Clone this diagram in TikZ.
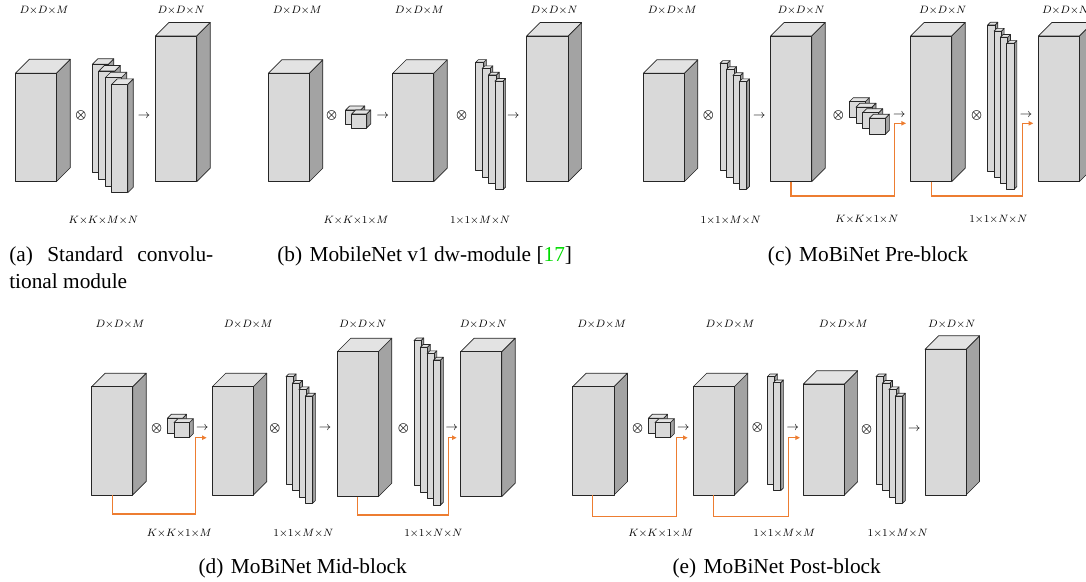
\documentclass[tikz,border=0pt]{standalone}
\usepackage{fontspec}
\setmainfont{Liberation Serif}
\usepackage{tikz}
\usepackage{amsmath}
\usepackage{xcolor}
\usetikzlibrary{arrows.meta,calc}

\definecolor{skiporange}{RGB}{237,125,49}
\definecolor{citegreen}{RGB}{0,220,0}

\tikzset{
  facefront/.style={draw=black!85,fill=black!15,line width=0.5pt,line join=round},
  facetop/.style={draw=black!85,fill=black!11,line width=0.5pt,line join=round},
  faceside/.style={draw=black!85,fill=black!36,line width=0.5pt,line join=round},
  dimlabel/.style={font=\fontsize{8}{9}\selectfont,inner sep=0pt},
  opsym/.style={font=\fontsize{9}{9}\selectfont,inner sep=0pt},
  skipline/.style={draw=skiporange,line width=1pt,-{Triangle[length=3.5pt,width=3.2pt]}},
  captext/.style={font=\fontsize{16}{18}\selectfont,inner sep=0pt}
}

% cuboid: front top-left x, y, width, height, depth
\newcommand{\cubeblock}[5]{%
  \draw[faceside] (#1,#2) ++(#3,0) -- ++(#5,-#5) -- ++(0,#4) -- ++(-#5,#5) -- cycle;
  \draw[facetop] (#1,#2) -- ++(#5,-#5) -- ++(#3,0) -- ++(-#5,#5) -- cycle;
  \draw[facefront] (#1,#2) rectangle ++(#3,#4);
}

\begin{document}
\begin{tikzpicture}[x=0.75pt,y=0.75pt,yscale=-1,xscale=1]
\useasboundingbox (0,0) rectangle (1086,582);
\clip (0,0) rectangle (1086,582);

%%%%%%%%%% (a) standard convolution
%Shape: Cube
\cubeblock{15.3}{73.3}{41}{108.4}{14}
%Shape: Filters
\foreach \i in {0,...,3} {\cubeblock{92.3+6.5*\i}{64.3+6.7*\i}{16}{108.3}{5.5}}
%Shape: Cube
\cubeblock{155.3}{36}{41.4}{145.7}{13.5}

% Text Node
\node[opsym] (a-ox1) at (81,115.7) {$\boldsymbol{\otimes}$};
\node[opsym] (a-to1) at (144,116) {$\rightarrow$};
\node[dimlabel] (a-in) at (44,10) {$D{\times}D{\times}M$};
\node[dimlabel] (a-out) at (181,10) {$D{\times}D{\times}N$};
\node[dimlabel] (a-k1) at (103.3,220) {$K{\times}K{\times}M{\times}N$};
\node[captext,anchor=west] (a-cap1) at (9,256) {\makebox[153pt][s]{(a) Standard convolu-}};
\node[captext,anchor=west] (a-cap2) at (9,281) {tional module};

%%%%%%%%%% (b) MobileNet v1
%Shape: Cube
\cubeblock{268.3}{73.3}{41}{108.4}{13.5}
%Shape: Depthwise kernels
\cubeblock{345.7}{110}{15}{14}{4}
\cubeblock{351.7}{114}{15}{14}{4}
%Shape: Cube
\cubeblock{392.7}{73.3}{41}{108.4}{13.5}
%Shape: Pointwise filters
\foreach \i in {0,...,3} {\cubeblock{475.7+6.4*\i}{62.3+6.3*\i}{8}{108.5}{2.7}}
%Shape: Cube
\cubeblock{526.7}{36}{41.4}{145.7}{13.5}

% Text Node
\node[opsym] (b-ox1) at (331.7,115.7) {$\boldsymbol{\otimes}$};
\node[opsym] (b-to1) at (382.7,116) {$\rightarrow$};
\node[opsym] (b-ox2) at (461.7,115.7) {$\boldsymbol{\otimes}$};
\node[opsym] (b-to2) at (513.3,116) {$\rightarrow$};
\node[dimlabel] (b-in) at (297.3,10) {$D{\times}D{\times}M$};
\node[dimlabel] (b-mid) at (419.3,10) {$D{\times}D{\times}M$};
\node[dimlabel] (b-out) at (554,10) {$D{\times}D{\times}N$};
\node[dimlabel] (b-k1) at (356,220) {$K{\times}K{\times}1{\times}M$};
\node[dimlabel] (b-k2) at (480,220) {$1{\times}1{\times}M{\times}N$};
\node[captext,anchor=west] (b-cap) at (277,256) {(b)\hspace{0.35em}MobileNet v1 dw-module [{\color{citegreen}17}]};

%%%%%%%%%% (c) MoBiNet Pre-block
%Shape: Cube
\cubeblock{643.3}{73.3}{41}{108.4}{13.5}
\foreach \i in {0,...,3} {\cubeblock{720+6.45*\i}{63.3+6.1*\i}{7.4}{107.5}{2.7}}
\cubeblock{770.7}{36}{41}{145.7}{13.5}
\foreach \i in {0,...,3} {\cubeblock{849.3+6.7*\i}{101.7+5.5*\i}{16}{16}{4}}
\cubeblock{910.7}{36}{41}{145.7}{13.5}
\foreach \i in {0,...,3} {\cubeblock{987.7+6.35*\i}{25+6.1*\i}{7.4}{146}{2.7}}
\cubeblock{1038.3}{36}{41}{145.7}{13.5}

% Text Node
\node[opsym] (c-ox1) at (708.3,115) {$\boldsymbol{\otimes}$};
\node[opsym] (c-to1) at (759.3,116) {$\rightarrow$};
\node[opsym] (c-ox2) at (838.3,115) {$\boldsymbol{\otimes}$};
\node[opsym] (c-to2) at (899.3,115.3) {$\rightarrow$};
\node[opsym] (c-ox3) at (976.7,115) {$\boldsymbol{\otimes}$};
\node[opsym] (c-to3) at (1026,115.3) {$\rightarrow$};
\node[dimlabel] (c-in) at (672.3,10) {$D{\times}D{\times}M$};
\node[dimlabel] (c-m1) at (801,10) {$D{\times}D{\times}N$};
\node[dimlabel] (c-m2) at (942.7,10) {$D{\times}D{\times}N$};
\node[dimlabel] (c-out) at (1065.5,10) {$D{\times}D{\times}N$};
\node[dimlabel] (c-k1) at (730.7,220) {$1{\times}1{\times}M{\times}N$};
\node[dimlabel] (c-k2) at (866.7,219) {$K{\times}K{\times}1{\times}N$};
\node[dimlabel] (c-k3) at (998.3,219) {$1{\times}1{\times}N{\times}N$};
\node[captext,anchor=west] (c-cap) at (767.7,256) {(c)\hspace{0.35em}MoBiNet Pre-block};

% Shortcuts
\coordinate (c-s1) at (791,181.7);
\coordinate (c-t1) at (906,123.3);
\coordinate (c-s2) at (931.7,181.7);
\coordinate (c-t2) at (1033.3,123.3);
\draw[skipline] (c-s1) -- ++(0,14.3) -| ($(c-t1)+(-11.7,0)$) -- (c-t1);
\draw[skipline] (c-s2) -- ++(0,14.3) -| ($(c-t2)+(-10.6,0)$) -- (c-t2);

%%%%%%%%%% (d) MoBiNet Mid-block
\cubeblock{91.7}{386.7}{41}{108.3}{13.5}
\cubeblock{167.3}{418.3}{15.3}{15}{4}
\cubeblock{174}{422.7}{15.3}{15}{4}
\cubeblock{212.3}{386.7}{41}{108.3}{13.5}
\foreach \i in {0,...,3} {\cubeblock{286+6.43*\i}{376.7+6.43*\i}{7.4}{107.3}{2.7}}
\cubeblock{337.3}{351.7}{41}{145}{13.5}
\foreach \i in {0,...,3} {\cubeblock{414+6.57*\i}{340.7+6.43*\i}{7}{145}{2.7}}
\cubeblock{460.7}{351.7}{41}{145}{13.5}

% Text Node
\node[opsym] (d-ox1) at (156.7,428.3) {$\boldsymbol{\otimes}$};
\node[opsym] (d-to1) at (202.3,428.7) {$\rightarrow$};
\node[opsym] (d-ox2) at (275,428.3) {$\boldsymbol{\otimes}$};
\node[opsym] (d-to2) at (325,428.3) {$\rightarrow$};
\node[opsym] (d-ox3) at (403.3,428.3) {$\boldsymbol{\otimes}$};
\node[opsym] (d-to3) at (451.7,428.3) {$\rightarrow$};
\node[dimlabel] (d-in) at (120,324) {$D{\times}D{\times}M$};
\node[dimlabel] (d-m1) at (248.3,324) {$D{\times}D{\times}M$};
\node[dimlabel] (d-m2) at (362.7,324) {$D{\times}D{\times}N$};
\node[dimlabel] (d-out) at (483.3,324) {$D{\times}D{\times}N$};
\node[dimlabel] (d-k1) at (179.3,533.3) {$K{\times}K{\times}1{\times}M$};
\node[dimlabel] (d-k2) at (303.3,533.3) {$1{\times}1{\times}M{\times}N$};
\node[dimlabel] (d-k3) at (433.3,533.3) {$1{\times}1{\times}N{\times}N$};
\node[captext] (d-cap) at (302.7,568.3) {(d)\hspace{0.35em}MoBiNet Mid-block};

% Shortcuts
\coordinate (d-s1) at (112.3,495);
\coordinate (d-t1) at (206.7,437.7);
\coordinate (d-s2) at (357.3,496.7);
\coordinate (d-t2) at (456.7,437.7);
\draw[skipline] (d-s1) -- ++(0,19) -| ($(d-t1)+(-11,0)$) -- (d-t1);
\draw[skipline] (d-s2) -- ++(0,18.3) -| ($(d-t2)+(-8.4,0)$) -- (d-t2);

%%%%%%%%%% (e) MoBiNet Post-block
\cubeblock{572.7}{386.7}{41.3}{108.3}{13.5}
\cubeblock{648.3}{418.3}{15.3}{15}{4}
\cubeblock{655}{422.7}{15.3}{15}{4}
\cubeblock{693.3}{386.7}{41}{108.3}{13.5}
\foreach \i in {0,1} {\cubeblock{767.3+6*\i}{376.7+6*\i}{7.4}{108}{2.7}}
\cubeblock{803.3}{384}{41}{111}{13.3}
\foreach \i in {0,...,3} {\cubeblock{876+6.43*\i}{376.7+6.43*\i}{7.4}{107.3}{2.7}}
\cubeblock{925}{349.3}{41}{145.7}{13.5}

% Text Node
\node[opsym] (e-ox1) at (637.7,428.3) {$\boldsymbol{\otimes}$};
\node[opsym] (e-to1) at (683.3,428.3) {$\rightarrow$};
\node[opsym] (e-ox2) at (757.3,427.3) {$\boldsymbol{\otimes}$};
\node[opsym] (e-to2) at (792.7,428.3) {$\rightarrow$};
\node[opsym] (e-ox3) at (866.7,429) {$\boldsymbol{\otimes}$};
\node[opsym] (e-to3) at (914.3,429) {$\rightarrow$};
\node[dimlabel] (e-in) at (601.7,324) {$D{\times}D{\times}M$};
\node[dimlabel] (e-m1) at (730,324) {$D{\times}D{\times}M$};
\node[dimlabel] (e-m2) at (843.3,324) {$D{\times}D{\times}M$};
\node[dimlabel] (e-out) at (951.7,324) {$D{\times}D{\times}N$};
\node[dimlabel] (e-k1) at (660.7,533.3) {$K{\times}K{\times}1{\times}M$};
\node[dimlabel] (e-k2) at (784.3,533.3) {$1{\times}1{\times}M{\times}M$};
\node[dimlabel] (e-k3) at (897.7,533.3) {$1{\times}1{\times}M{\times}N$};
\node[captext] (e-cap) at (776.7,568.3) {(e)\hspace{0.35em}MoBiNet Post-block};

% Shortcuts
\coordinate (e-s1) at (592.7,495);
\coordinate (e-t1) at (687.7,437.7);
\coordinate (e-s2) at (713.3,495);
\coordinate (e-t2) at (800,437.7);
\draw[skipline] (e-s1) -- ++(0,21.7) -| ($(e-t1)+(-11,0)$) -- (e-t1);
\draw[skipline] (e-s2) -- ++(0,21.7) -| ($(e-t2)+(-11.7,0)$) -- (e-t2);

\end{tikzpicture}
\end{document}
